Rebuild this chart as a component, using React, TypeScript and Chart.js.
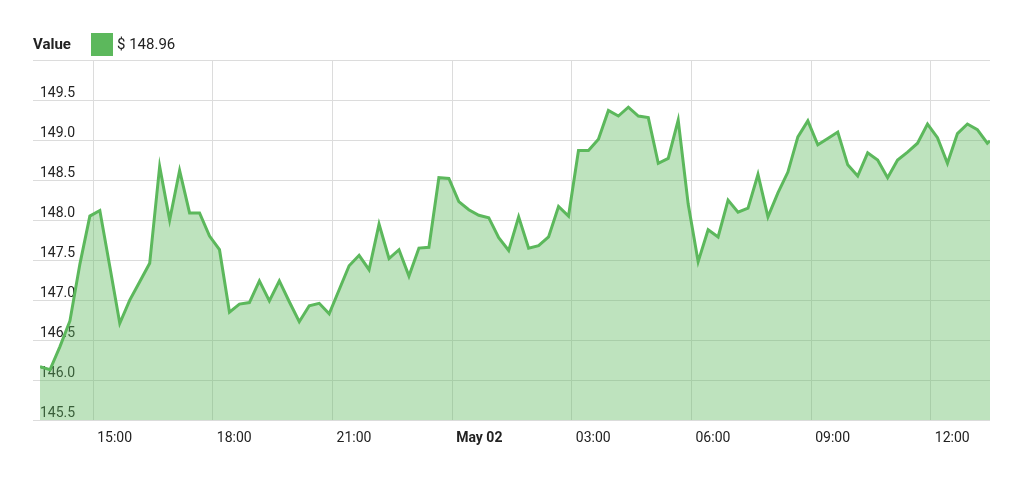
import { useEffect, useRef } from 'react';
import { Chart, registerables } from 'chart.js';

Chart.register(...registerables);

// ---- data ----
const seriesLabel = 'Value';
const currentPriceText = '$ 148.96';
const startHour = 13 + 40 / 60; // first sample 13:40 (May 01)
const stepHours = 0.25; // one sample every 15 minutes
const liveHour = 37 + 29 / 60; // live quote at 13:29 (May 02)
const livePrice = 148.99;
const prices: number[] = [
  146.17, 146.13, 146.42, 146.74, 147.45, 148.05, 148.12, 147.42, 146.71, 147.0,
  147.23, 147.46, 148.67, 148.0, 148.62, 148.09, 148.09, 147.8, 147.63, 146.85,
  146.95, 146.97, 147.24, 146.99, 147.24, 146.98, 146.73, 146.93, 146.96, 146.83,
  147.13, 147.43, 147.56, 147.38, 147.95, 147.52, 147.63, 147.3, 147.65, 147.66,
  148.53, 148.52, 148.23, 148.13, 148.06, 148.03, 147.78, 147.62, 148.04, 147.65,
  147.68, 147.79, 148.17, 148.05, 148.87, 148.87, 149.01, 149.37, 149.3, 149.41,
  149.3, 149.28, 148.71, 148.77, 149.25, 148.2, 147.48, 147.88, 147.79, 148.25,
  148.1, 148.15, 148.57, 148.04, 148.34, 148.6, 149.04, 149.24, 148.94, 149.02,
  149.1, 148.69, 148.55, 148.84, 148.75, 148.53, 148.75, 148.85, 148.96, 149.2,
  149.03, 148.71, 149.08, 149.2, 149.13, 148.96,
];
const tickHours = [15, 18, 21, 24, 27, 30, 33, 36];
const tickLabels = ['15:00', '18:00', '21:00', 'May 02', '03:00', '06:00', '09:00', '12:00'];
const boldTickHour = 24;
const yMin = 145.5;
const yMax = 150;
const yStep = 0.5;

// ---- style ----
const lineColor = 'rgb(92,184,92)';
const fillColor = 'rgba(92,184,92,0.4)';
const gridColor = '#dcdcdc';
const textColor = '#222';
const fontFamily = 'Roboto, "Liberation Sans", sans-serif';

const legendPlugin = {
  id: 'inlineLegend',
  afterDraw(chart: any) {
    const ctx = chart.ctx as CanvasRenderingContext2D;
    ctx.save();
    ctx.textBaseline = 'middle';
    ctx.textAlign = 'left';
    ctx.fillStyle = textColor;
    ctx.font = `bold 15px ${fontFamily}`;
    ctx.fillText(seriesLabel, 25, 37);
    ctx.fillStyle = lineColor;
    ctx.fillRect(83, 25, 22, 23);
    ctx.fillStyle = textColor;
    ctx.font = `15px ${fontFamily}`;
    ctx.fillText(currentPriceText, 109, 37);
    ctx.restore();
  },
};

export default function App() {
  const ref = useRef<HTMLCanvasElement | null>(null);

  useEffect(() => {
    if (!ref.current) return;
    const points = prices
      .map((v, i) => ({ x: startHour + i * stepHours, y: v }))
      .concat([{ x: liveHour, y: livePrice }]);

    const chart = new Chart(ref.current, {
      type: 'line',
      data: {
        datasets: [
          {
            label: seriesLabel,
            data: points,
            borderColor: lineColor,
            backgroundColor: fillColor,
            borderWidth: 3,
            pointRadius: 0,
            tension: 0,
            fill: 'start',
          },
        ],
      },
      options: {
        animation: false,
        responsive: false,
        devicePixelRatio: 1,
        layout: { padding: { top: 52, left: 25, right: 26, bottom: 15 } },
        plugins: {
          legend: { display: false },
          tooltip: { enabled: false },
        },
        scales: {
          x: {
            type: 'linear',
            min: startHour,
            max: liveHour,
            border: { display: false },
            grid: { color: gridColor, drawTicks: false, lineWidth: 1 },
            afterBuildTicks: (scale: any) => {
              scale.ticks = tickHours.map((v) => ({ value: v }));
            },
            ticks: {
              autoSkip: false,
              maxRotation: 0,
              align: 'start',
              labelOffset: 4,
              padding: 10,
              color: textColor,
              font: (c: any) => ({
                family: fontFamily,
                size: 14,
                weight: c.tick && c.tick.value === boldTickHour ? 'bold' : 'normal',
              }),
              callback: (_v: any, i: number) => tickLabels[i],
            },
          },
          y: {
            type: 'linear',
            min: yMin,
            max: yMax,
            border: { display: false },
            grid: { color: gridColor, drawTicks: true, tickLength: 7, lineWidth: 1 },
            ticks: {
              stepSize: yStep,
              mirror: true,
              padding: 0,
              labelOffset: -7,
              color: textColor,
              font: { family: fontFamily, size: 14 },
              callback: (v: any) => (Number(v) >= yMax ? '' : Number(v).toFixed(1)),
            },
          },
        },
      },
      plugins: [legendPlugin],
    } as any);

    return () => chart.destroy();
  }, []);

  return (
    <div style={{ width: 1008, height: 464, position: 'relative' }}>
      <canvas ref={ref} width={1008} height={464} style={{ display: 'block' }} />
    </div>
  );
}
